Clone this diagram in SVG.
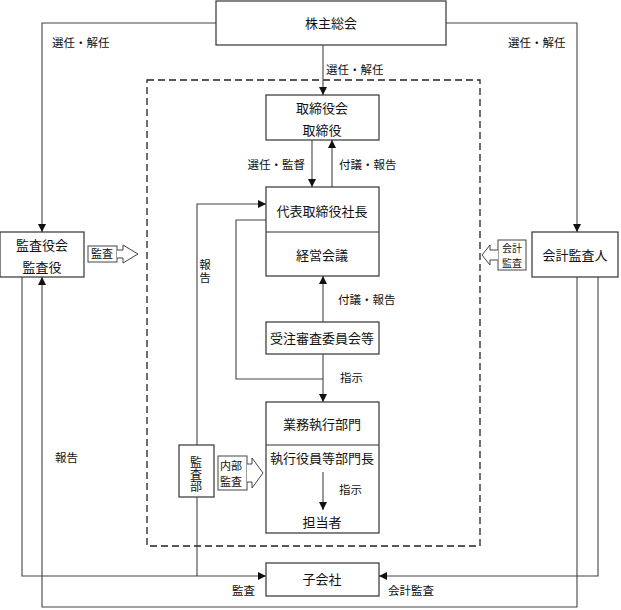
<svg xmlns="http://www.w3.org/2000/svg" width="621" height="610" viewBox="0 0 621 610">
<style>
text{font-family:"Noto Sans CJK JP","Noto Sans",sans-serif;fill:#111}
.t{font-size:13px;text-anchor:middle}
.vt{writing-mode:vertical-rl;text-orientation:upright}
.l{font-size:11.5px}
.s{font-size:11px}
.xs{font-size:10px}
.box{fill:#fff;stroke:#333;stroke-width:1.2}
.ln{fill:none;stroke:#444;stroke-width:1.1}
.blk{fill:#fff;stroke:#444;stroke-width:1}
</style>
<defs>
<marker id="ah" viewBox="0 0 10 10" refX="10" refY="5" markerWidth="8" markerHeight="8" markerUnits="userSpaceOnUse" orient="auto"><path d="M0,0L10,5L0,10z" fill="#111"/></marker>
</defs>
<rect x="147" y="80" width="333" height="466" fill="none" stroke="#222" stroke-width="1.3" stroke-dasharray="7,4"/>
<g id="kabunushi"><rect class="box" x="216" y="1" width="230" height="44"/><text class="t" x="331" y="28">株主総会</text></g>
<g id="torishimariyakukai"><rect class="box" x="266" y="95" width="113" height="45"/><text class="t" x="322" y="113">取締役会</text><text class="t" x="322" y="135">取締役</text></g>
<g id="shacho"><rect class="box" x="266" y="187" width="113" height="89"/><line x1="266" y1="232" x2="379" y2="232" stroke="#333" stroke-width="1.2"/><text class="t" x="322" y="216">代表取締役社長</text><text class="t" x="322" y="260">経営会議</text></g>
<g id="juchu"><rect class="box" x="266" y="322" width="113" height="32"/><text class="t" x="322" y="343">受注審査委員会等</text></g>
<g id="gyomu"><rect class="box" x="266" y="402" width="113" height="131"/><line x1="266" y1="445" x2="379" y2="445" stroke="#333" stroke-width="1.2"/><text class="t" x="322" y="429">業務執行部門</text><text class="t" x="322" y="463">執行役員等部門長</text><text class="t" x="322" y="527">担当者</text><text class="l" x="339" y="494">指示</text></g>
<g id="kansayakukai"><rect class="box" x="0" y="232" width="84" height="45"/><text class="t" x="42" y="250">監査役会</text><text class="t" x="42" y="272">監査役</text></g>
<g id="kaikeikansanin"><rect class="box" x="532" y="232" width="86" height="45"/><text class="t" x="575" y="260">会計監査人</text></g>
<g id="kansabu"><rect class="box" x="179" y="445" width="35" height="52"/><text class="vt" x="196" y="456" font-size="12">監査部</text></g>
<g id="kogaisha"><rect class="box" x="266" y="563" width="113" height="33"/><text class="t" x="322" y="584">子会社</text></g>
<g id="arrow-kansa"><rect class="blk" x="88" y="246" width="29" height="16"/><path class="blk" d="M117,250H123V245L138,254L123,263V258H117"/><text class="s" x="91" y="258">監査</text></g>
<g id="arrow-naibu"><rect class="blk" x="218" y="456" width="29" height="34"/><path class="blk" d="M247,464H252V458L263,473L252,488V482H247"/><text class="s" x="220" y="470">内部</text><text class="s" x="220" y="486">監査</text></g>
<g id="arrow-kaikei"><rect class="blk" x="498" y="240" width="28" height="30"/><path class="blk" d="M498,250H490V245L482,255L490,265V260H498"/><text class="xs" x="502" y="252">会計</text><text class="xs" x="502" y="267">監査</text></g>
<g id="connectors">
<polyline class="ln" points="216,23 42,23 42,232" marker-end="url(#ah)"/>
<polyline class="ln" points="446,23 577,23 577,232" marker-end="url(#ah)"/>
<line class="ln" x1="323" y1="45" x2="323" y2="95" marker-end="url(#ah)"/>
<line class="ln" x1="312" y1="140" x2="312" y2="187" marker-end="url(#ah)"/>
<line class="ln" x1="332" y1="187" x2="332" y2="140" marker-end="url(#ah)"/>
<polyline class="ln" points="197,445 197,204 266,204" marker-end="url(#ah)"/>
<polyline class="ln" points="266,220 236,220 236,379 323,379"/>
<line class="ln" x1="323" y1="322" x2="323" y2="276" marker-end="url(#ah)"/>
<line class="ln" x1="323" y1="354" x2="323" y2="402" marker-end="url(#ah)"/>
<line class="ln" x1="323" y1="472" x2="323" y2="510" marker-end="url(#ah)"/>
<polyline class="ln" points="22,277 22,576 266,576" marker-end="url(#ah)"/>
<line class="ln" x1="197" y1="497" x2="197" y2="576"/>
<polyline class="ln" points="598,277 598,576 379,576" marker-end="url(#ah)"/>
<polyline class="ln" points="577,277 577,607 42,607 42,277" marker-end="url(#ah)"/>
<text class="l" x="52" y="47">選任・解任</text>
<text class="l" x="508" y="47">選任・解任</text>
<text class="l" x="326" y="74">選任・解任</text>
<text class="l" x="305" y="169" text-anchor="end">選任・監督</text>
<text class="l" x="339" y="169">付議・報告</text>
<text class="l vt" x="205" y="259" letter-spacing="1.5">報告</text>
<text class="l" x="338" y="304">付議・報告</text>
<text class="l" x="340" y="382">指示</text>
<text class="l" x="55" y="462">報告</text>
<text class="l" x="232" y="595">監査</text>
<text class="l" x="388" y="595">会計監査</text>
</g>
</svg>
